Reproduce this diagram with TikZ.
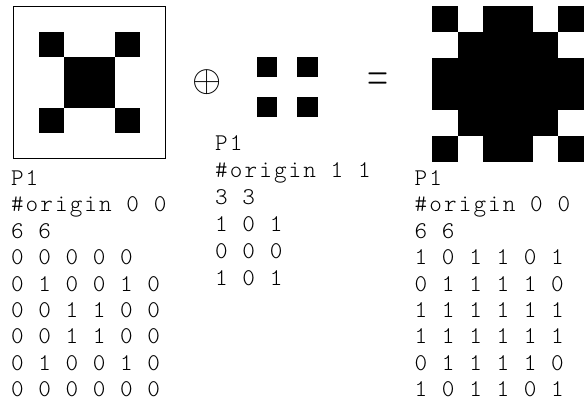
\documentclass[tikz,border=0pt]{standalone}
\usepackage{fontspec}
\usepackage{graphicx}
\newfontfamily\codefont{lmmonolt10-regular}[Extension=.otf,LetterSpace=8.75]
\begin{document}
\begin{tikzpicture}[x=1pt,y=-1pt,
  txt/.style={anchor=base west,inner sep=0pt,font=\codefont\fontsize{24}{26}\selectfont},
  symb/.style={inner sep=0pt,anchor=center}]
\useasboundingbox (0,0) rectangle (588,404);
\fill[white] (0,0) rectangle (588,404);

% ---- left 6x6 image (framed)
\def\lx{13.7}\def\ly{6.7}\def\lc{25.3}
\foreach \r/\c in {1/1,1/4,4/1,4/4}
  \fill[black] ({\lx+\c*\lc},{\ly+\r*\lc}) rectangle ++(\lc,\lc);
\fill[black] ({\lx+2*\lc},{\ly+2*\lc}) rectangle ++({2*\lc},{2*\lc});
\draw[line width=1.2pt] (\lx,\ly) rectangle ++({6*\lc},{6*\lc});

% ---- middle 3x3 structuring element
\def\mx{256.7}\def\my{56.7}\def\mcw{20.3}\def\mch{20}
\foreach \r/\c in {0/0,0/2,2/0,2/2}
  \fill[black] ({\mx+\c*\mcw},{\my+\r*\mch}) rectangle ++(\mcw,\mch);

% ---- right 6x6 result
\def\rx{432.3}\def\ry{6}\def\rcw{25.2}\def\rch{25.95}
\fill[black] (\rx,\ry) rectangle ++({6*\rcw},{6*\rch});
\foreach \r/\c in {0/1,0/4,1/0,1/5,4/0,4/5,5/1,5/4}
  \fill[white] ({\rx+\c*\rcw},{\ry+\r*\rch}) rectangle ++(\rcw,\rch);

% ---- operators
\node[symb] (oplus) at (206.7,82.5) {\scalebox{3.75}{$\oplus$}};
\node[symb] (equals) at (378,82) {\scalebox{2.7}[4.8]{$=$}};

% ---- left text
\def\lt{10.8}
\node[txt] (l1) at (\lt,185.5) {P1};
\node[txt] (l2) at (\lt,211.9) {\#origin 0 0};
\node[txt] (l3) at (\lt,238.3) {6 6};
\node[txt] (l4) at (\lt,264.7) {0 0 0 0 0};
\node[txt] (l5) at (\lt,291.1) {0 1 0 0 1 0};
\node[txt] (l6) at (\lt,317.5) {0 0 1 1 0 0};
\node[txt] (l7) at (\lt,343.9) {0 0 1 1 0 0};
\node[txt] (l8) at (\lt,370.3) {0 1 0 0 1 0};
\node[txt] (l9) at (\lt,396.7) {0 0 0 0 0 0};

% ---- middle text
\def\mt{215}
\node[txt] (m1) at (\mt,150) {P1};
\node[txt] (m2) at (\mt,177) {\#origin 1 1};
\node[txt] (m3) at (\mt,204) {3 3};
\node[txt] (m4) at (\mt,231) {1 0 1};
\node[txt] (m5) at (\mt,258) {0 0 0};
\node[txt] (m6) at (\mt,285) {1 0 1};

% ---- right text
\def\rt{414.5}
\node[txt] (r1) at (\rt,185.5) {P1};
\node[txt] (r2) at (\rt,211.9) {\#origin 0 0};
\node[txt] (r3) at (\rt,238.3) {6 6};
\node[txt] (r4) at (\rt,264.7) {1 0 1 1 0 1};
\node[txt] (r5) at (\rt,291.1) {0 1 1 1 1 0};
\node[txt] (r6) at (\rt,317.5) {1 1 1 1 1 1};
\node[txt] (r7) at (\rt,343.9) {1 1 1 1 1 1};
\node[txt] (r8) at (\rt,370.3) {0 1 1 1 1 0};
\node[txt] (r9) at (\rt,396.7) {1 0 1 1 0 1};
\end{tikzpicture}
\end{document}
